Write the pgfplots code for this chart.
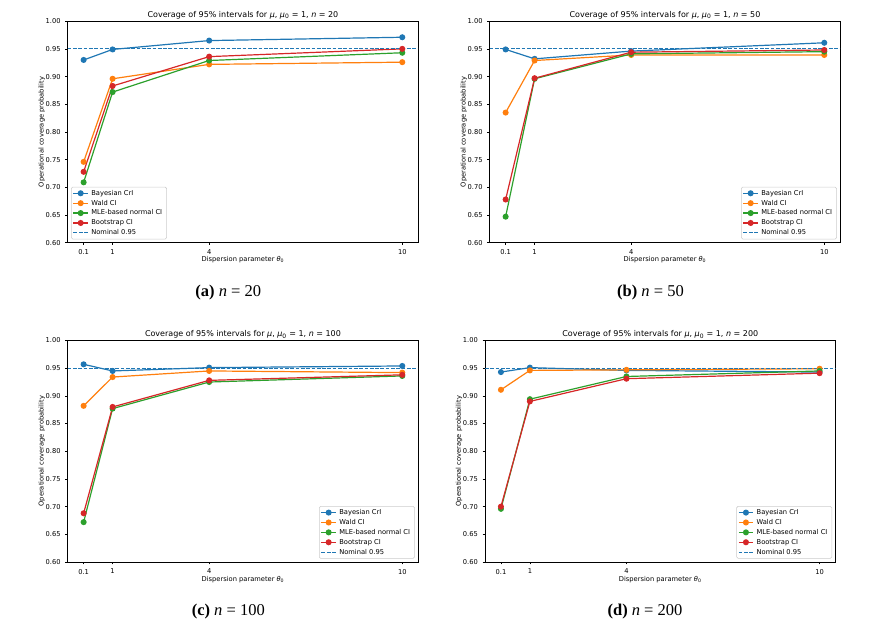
\documentclass[border=0pt]{standalone}
\usepackage{fontspec}
\setmainfont{DejaVu Sans}
\newfontfamily\capfont{Liberation Serif}
\usepackage{pgfplots}
\pgfplotsset{compat=1.18}
\definecolor{C0}{HTML}{1F77B4}
\definecolor{C1}{HTML}{FF7F0E}
\definecolor{C2}{HTML}{2CA02C}
\definecolor{C3}{HTML}{D62728}
\newcommand\ticksize{\fontsize{6.7}{8}\selectfont}
\newcommand\titlesize{\fontsize{8}{9.6}\selectfont}
\newcommand\capsize{\capfont\fontsize{16.5}{18}\selectfont}
\pgfplotsset{
  panel/.style={
    scale only axis, width=350.5pt, height=221.5pt,
    xmin=-0.395, xmax=10.495, ymin=0.6, ymax=1.0,
    xtick={0.1,1,4,10}, xticklabels={0.1,1,4,10},
    ytick={0.60,0.65,0.70,0.75,0.80,0.85,0.90,0.95,1.00},
    /pgf/number format/assume math mode=true,
    yticklabel style={/pgf/number format/fixed, /pgf/number format/fixed zerofill, /pgf/number format/precision=2, anchor=east, xshift=-4.6pt},
    tick pos=left,
    tick align=outside, major tick length=2.3pt,
    tick style={black, line width=0.54pt},
    axis line style={line width=0.54pt},
    tick label style={font=\ticksize, inner sep=0pt},
    xticklabel style={anchor=north, yshift=-4.6pt},
    every axis title shift=0pt,
    title style={at={(axis description cs:0.5,1)}, anchor=south, yshift=2.2pt, inner sep=0pt, font=\titlesize},
    xlabel style={at={(axis description cs:0.5,0)}, anchor=center, yshift=-17.3pt, inner sep=0pt, font=\ticksize},
    ylabel style={at={(axis description cs:0,0.5)}, anchor=center, yshift=26pt, inner sep=0pt, font=\ticksize},
    xlabel={Dispersion parameter {\itshape θ}\textsubscript{0}},
    ylabel={Operational coverage probability},
    legend cell align=left,
    legend style={font=\ticksize, draw=black!20, line width=0.54pt, rounded corners=1.3pt,
      fill=white, fill opacity=0.8, text opacity=1, draw opacity=1,
      inner xsep=1.5pt, inner ysep=1.2pt, row sep=0pt,
      nodes={inner xsep=2.9pt, inner ysep=1.7pt, text height=5.1pt, text depth=1.4pt}},
    legend image code/.code={\draw[mark repeat=2,mark phase=2,fill opacity=1,#1] plot coordinates {(0pt,0pt)(7.2pt,0pt)(14.4pt,0pt)};},
    every axis plot/.append style={line width=1.2pt, mark=*, mark size=2.4pt, mark options={solid}},
  },
  legSW/.style={legend style={at={(0,0)}, anchor=south west, xshift=3.4pt, yshift=3.4pt}},
  legSE/.style={legend style={at={(1,0)}, anchor=south east, xshift=-3.4pt, yshift=3.4pt}},
  nominal/.style={C0, dash pattern=on 3.7pt off 1.6pt, line width=1pt, no marks},
}
\begin{document}
\begin{tikzpicture}
\useasboundingbox (0pt,0pt) rectangle (895pt,631pt);
% (a)
\begin{axis}[panel, legSW, at={(67.7pt,388.3pt)}, anchor=south west,
  title={Coverage of 95\% intervals for {\itshape μ}, {\itshape μ}\textsubscript{0} = 1, {\itshape n} = 20}]
\addplot[C0] coordinates {(0.1,0.930)(1,0.949)(4,0.965)(10,0.971)};
\addplot[C1] coordinates {(0.1,0.746)(1,0.896)(4,0.922)(10,0.926)};
\addplot[C2] coordinates {(0.1,0.709)(1,0.872)(4,0.929)(10,0.943)};
\addplot[C3] coordinates {(0.1,0.728)(1,0.883)(4,0.936)(10,0.950)};
\addplot[nominal] coordinates {(-0.395,0.95)(10.495,0.95)};
\legend{Bayesian CrI, Wald CI, MLE-based normal CI, Bootstrap CI, Nominal 0.95}
\end{axis}
% (b)
\begin{axis}[panel, legSE, at={(489.7pt,388.3pt)}, anchor=south west,
  title={Coverage of 95\% intervals for {\itshape μ}, {\itshape μ}\textsubscript{0} = 1, {\itshape n} = 50}]
\addplot[C0] coordinates {(0.1,0.949)(1,0.932)(4,0.946)(10,0.961)};
\addplot[C1] coordinates {(0.1,0.835)(1,0.929)(4,0.939)(10,0.939)};
\addplot[C2] coordinates {(0.1,0.647)(1,0.896)(4,0.941)(10,0.945)};
\addplot[C3] coordinates {(0.1,0.678)(1,0.897)(4,0.944)(10,0.948)};
\addplot[nominal] coordinates {(-0.395,0.95)(10.495,0.95)};
\legend{Bayesian CrI, Wald CI, MLE-based normal CI, Bootstrap CI, Nominal 0.95}
\end{axis}
% (c)
\begin{axis}[panel, legSE, at={(67.7pt,69pt)}, anchor=south west,
  title={Coverage of 95\% intervals for {\itshape μ}, {\itshape μ}\textsubscript{0} = 1, {\itshape n} = 100}]
\addplot[C0] coordinates {(0.1,0.957)(1,0.945)(4,0.951)(10,0.954)};
\addplot[C1] coordinates {(0.1,0.882)(1,0.934)(4,0.945)(10,0.942)};
\addplot[C2] coordinates {(0.1,0.672)(1,0.877)(4,0.925)(10,0.936)};
\addplot[C3] coordinates {(0.1,0.688)(1,0.880)(4,0.928)(10,0.938)};
\addplot[nominal] coordinates {(-0.395,0.95)(10.495,0.95)};
\legend{Bayesian CrI, Wald CI, MLE-based normal CI, Bootstrap CI, Nominal 0.95}
\end{axis}
% (d)
\begin{axis}[panel, legSE, at={(485pt,69pt)}, anchor=south west,
  title={Coverage of 95\% intervals for {\itshape μ}, {\itshape μ}\textsubscript{0} = 1, {\itshape n} = 200}]
\addplot[C0] coordinates {(0.1,0.943)(1,0.951)(4,0.946)(10,0.943)};
\addplot[C1] coordinates {(0.1,0.911)(1,0.946)(4,0.947)(10,0.949)};
\addplot[C2] coordinates {(0.1,0.696)(1,0.894)(4,0.935)(10,0.945)};
\addplot[C3] coordinates {(0.1,0.700)(1,0.890)(4,0.931)(10,0.941)};
\addplot[nominal] coordinates {(-0.395,0.95)(10.495,0.95)};
\legend{Bayesian CrI, Wald CI, MLE-based normal CI, Bootstrap CI, Nominal 0.95}
\end{axis}
\node[anchor=base, font=\capsize, inner sep=0pt] at (228.3pt,334pt) {\textbf{(a)} \textit{n} = 20};
\node[anchor=base, font=\capsize, inner sep=0pt] at (650.5pt,334pt) {\textbf{(b)} \textit{n} = 50};
\node[anchor=base, font=\capsize, inner sep=0pt] at (228.3pt,15pt) {\textbf{(c)} \textit{n} = 100};
\node[anchor=base, font=\capsize, inner sep=0pt] at (645pt,15pt) {\textbf{(d)} \textit{n} = 200};
\end{tikzpicture}
\end{document}
